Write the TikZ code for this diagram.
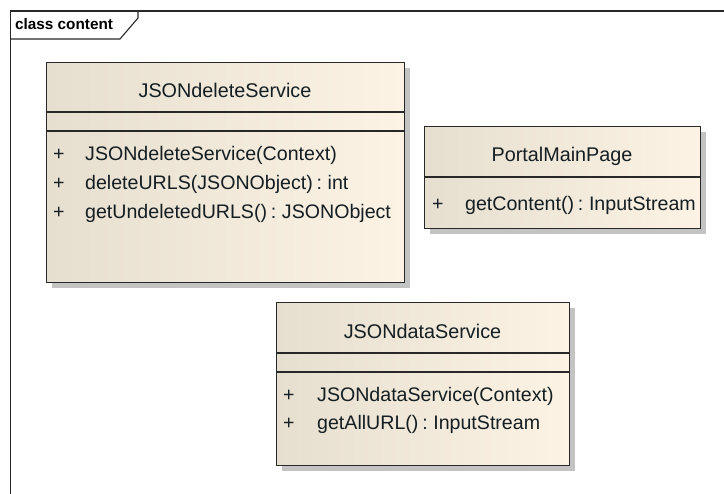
\documentclass[tikz,border=0pt]{standalone}
\usepackage{fontspec}
\setmainfont[WordSpace=0.7]{Liberation Sans}
\newfontfamily\tabfont{Liberation Sans}
\usetikzlibrary{shadows}

\definecolor{clsleft}{RGB}{230,222,206}
\definecolor{clsright}{RGB}{252,243,228}
\definecolor{clsline}{RGB}{40,40,40}
\definecolor{shade}{RGB}{195,195,195}
\definecolor{txt}{RGB}{20,30,35}

\tikzset{
  classbox/.style={draw=clsline, line width=1.2pt, left color=clsleft, right color=clsright,
    anchor=north west, inner sep=0pt,
    drop shadow={shadow xshift=5pt, shadow yshift=-5pt, fill=shade, opacity=1}},
  cname/.style={anchor=base, font=\fontsize{19.8}{22}\selectfont, text=txt, inner sep=0pt},
  oper/.style={anchor=base west, font=\fontsize{19.6}{22}\selectfont, text=txt, inner sep=0pt},
  vis/.style={anchor=base west, font=\fontsize{19.6}{22}\selectfont, text=txt, inner sep=0pt},
  divider/.style={draw=clsline, line width=1.2pt},
  framebox/.style={draw=clsline, line width=1.1pt},
}

\begin{document}
\begin{tikzpicture}[x=1pt,y=-1pt]
\useasboundingbox (0,0) rectangle (724,494);

% package frame with its name tab
\draw[framebox] (10.5,498) -- (10.5,11) -- (730,11);
\draw[framebox] (138,11) -- (138,18) -- (120,39) -- (10.5,39);
\node[anchor=base west, font=\tabfont\bfseries\fontsize{15.3}{17}\selectfont, inner sep=0pt] (frametitle) at (15,30) {class content};

% JSONdeleteService
\node[classbox, minimum width=358pt, minimum height=220pt] (del) at (46,62) {};
\draw[divider] (46,112) -- (404,112);
\draw[divider] (46,131) -- (404,131);
\node[cname] (delname) at (225,98) {JSONdeleteService};
\node[vis] (delv1) at (53,161) {+};
\node[oper] (delo1) at (85,161) {JSONdeleteService(Context)};
\node[vis] (delv2) at (53,190) {+};
\node[oper] (delo2) at (85,190) {deleteURLS(JSONObject) : int};
\node[vis] (delv3) at (53,219) {+};
\node[oper] (delo3) at (85,219) {getUndeletedURLS() : JSONObject};

% PortalMainPage
\node[classbox, minimum width=276pt, minimum height=102pt] (portal) at (424,126) {};
\draw[divider] (424,177) -- (700,177);
\node[cname] (portalname) at (562,162) {PortalMainPage};
\node[vis] (portalv1) at (432,211) {+};
\node[oper] (portalo1) at (465,211) {getContent() : InputStream};

% JSONdataService
\node[classbox, minimum width=293pt, minimum height=163pt] (data) at (276,302) {};
\draw[divider] (276,353) -- (569,353);
\draw[divider] (276,372) -- (569,372);
\node[cname] (dataname) at (422.5,339) {JSONdataService};
\node[vis] (datav1) at (283,402) {+};
\node[oper] (datao1) at (317,402) {JSONdataService(Context)};
\node[vis] (datav2) at (283,430) {+};
\node[oper] (datao2) at (317,430) {getAllURL() : InputStream};
\end{tikzpicture}
\end{document}
